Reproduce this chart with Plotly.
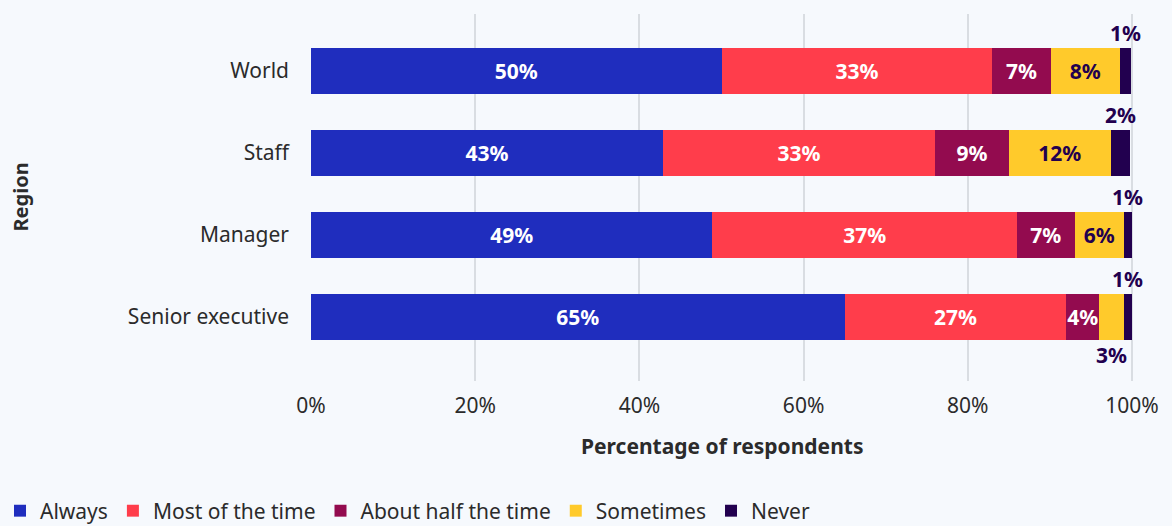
import plotly.graph_objects as go

regions = ["World", "Staff", "Manager", "Senior executive"]
always = [50.0, 42.9, 48.9, 65.0]
most_of_the_time = [33.0, 33.1, 37.1, 27.0]
about_half = [7.1, 9.0, 7.0, 4.0]
sometimes = [8.4, 12.4, 6.0, 3.0]
never = [1.4, 2.4, 1.0, 1.0]

series = [
    ("Always", always, "#1f2dbe", "white"),
    ("Most of the time", most_of_the_time, "#ff3d4b", "white"),
    ("About half the time", about_half, "#930b4f", "white"),
    ("Sometimes", sometimes, "#ffca2b", "#22004f"),
    ("Never", never, "#22004f", "white"),
]

FONT = "Noto Sans, Open Sans, sans-serif"
BG = "#f6f9fd"
TXT = "#2b2b2b"
LABEL_MIN = 3.5  # smaller segments get an outside callout

W, H = 1172, 526
ML, MT, MB = 311, 14, 145
PX_PER_PCT = 8.21  # 100% sits 40px short of the right edge

fig = go.Figure()
for name, vals, color, txt_color in series:
    fig.add_trace(go.Bar(
        name=name,
        legendgroup=name,
        y=regions,
        x=vals,
        orientation="h",
        width=0.56,
        marker=dict(color=color, line=dict(width=0)),
        text=[f"{v:.0f}%" if v >= LABEL_MIN else "" for v in vals],
        textposition="inside",
        insidetextanchor="middle",
        textangle=0,
        textfont=dict(family=FONT, size=21, color=txt_color, weight="bold"),
        hovertemplate="%{y}: %{x:.0f}%<extra>" + name + "</extra>",
    ))

# callouts for the thin segments
annotations = []
for i, region in enumerate(regions):
    start = 0.0
    for name, vals, color, _ in series:
        v = vals[i]
        if v < LABEL_MIN:
            below = name == "Sometimes"
            annotations.append(dict(
                x=start + v / 2, y=i + (0.28 if below else -0.28),
                xref="x", yref="y",
                text=f"{v:.0f}%",
                showarrow=True, arrowhead=0, arrowwidth=1, arrowcolor="#22004f",
                ax=0, ay=15 if below else -15,
                font=dict(family=FONT, size=21, color="#22004f", weight="bold"),
            ))
        start += v

plot_h = H - MT - MB
plot_w = W - ML
annotations += [
    dict(text="<b>Region</b>", textangle=-90, xref="paper", yref="paper",
         x=-(ML - 20) / plot_w, y=0.5, xanchor="center", yanchor="middle",
         showarrow=False, font=dict(family=FONT, size=20, color=TXT)),
    dict(text="<b>Percentage of respondents</b>", xref="x", yref="paper",
         x=50, y=-(446 - (H - MB)) / plot_h, xanchor="center", yanchor="middle",
         showarrow=False, font=dict(family=FONT, size=21, color=TXT)),
]

fig.update_layout(
    barmode="stack",
    width=W, height=H,
    paper_bgcolor=BG, plot_bgcolor=BG,
    font=dict(family=FONT, size=21, color=TXT),
    margin=dict(l=ML, r=0, t=MT, b=MB),
    uniformtext=dict(minsize=21, mode="show"),
    xaxis=dict(
        range=[0, plot_w / PX_PER_PCT], tickvals=[0, 20, 40, 60, 80, 100],
        ticktext=["0%", "20%", "40%", "60%", "80%", "100%"],
        showgrid=True, gridcolor="#d9dde2", gridwidth=1.5, zeroline=False,
        ticks="", showline=False, ticklabelstandoff=10,
        fixedrange=True,
    ),
    yaxis=dict(
        categoryorder="array", categoryarray=regions,
        range=[3.78, -0.695], showgrid=False, zeroline=False,
        ticks="", ticklabelstandoff=21, fixedrange=True,
    ),
    legend=dict(
        orientation="h", xref="container", x=0, xanchor="left",
        yref="container", y=1 - 511 / H, yanchor="middle",
        tracegroupgap=14,
        font=dict(size=21, color=TXT), bgcolor="rgba(0,0,0,0)",
        traceorder="normal",
    ),
    annotations=annotations,
)

fig.write_html("out.html", config={"displayModeBar": False},
               post_script="document.body.style.margin='0';")
